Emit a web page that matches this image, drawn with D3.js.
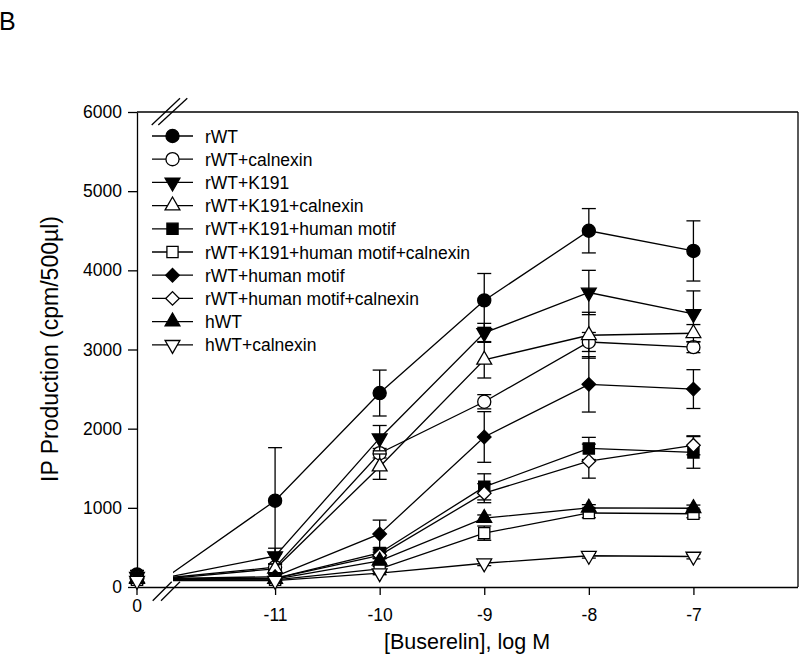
<!DOCTYPE html>
<meta charset="utf-8">
<head>
  <title>IP production vs buserelin</title>
</head>
<style>
  body { margin: 0; background: #fff; }
  text { font-family: "Liberation Sans", Arial, sans-serif; fill: #000; }
</style>
<body>
<svg width="800" height="660"></svg>
<script src="https://cdn.jsdelivr.net/npm/d3@7"></script>
<script>
// doses, first one is the "0" (no agonist) point shown left of the axis break
var doses = [0, -11, -10, -9, -8, -7];
var xTicks = [-11, -10, -9, -8, -7];
var yTicks = [0, 1000, 2000, 3000, 4000, 5000, 6000];

var seriesNames = [
  "rWT", "rWT+calnexin", "rWT+K191", "rWT+K191+calnexin",
  "rWT+K191+human motif", "rWT+K191+human motif+calnexin",
  "rWT+human motif", "rWT+human motif+calnexin", "hWT", "hWT+calnexin"
];
var markers = ["circle", "circle", "tridown", "triup", "square", "square", "diamond", "diamond", "triup", "tridown"];
var filled = [true, false, true, false, true, false, true, false, true, false];

var values = [
  [160, 1090, 2450, 3620, 4500, 4245],
  [120, 250, 1690, 2340, 3095, 3030],
  [130, 390, 1880, 3210, 3720, 3450],
  [110, 230, 1520, 2870, 3180, 3205],
  [100, 110, 430, 1265, 1750, 1700],
  [90, 90, 230, 680, 935, 925],
  [110, 130, 670, 1895, 2560, 2500],
  [100, 110, 400, 1185, 1590, 1790],
  [100, 100, 330, 870, 1000, 995],
  [80, 80, 175, 300, 395, 385]
];
var errors = [
  [50, 670, 290, 340, 280, 380],
  [30, 40, 60, 90, 120, 70],
  [40, 100, 160, 120, 280, 290],
  [30, 60, 160, 230, 290, 110],
  [20, 20, 40, 165, 140, 200],
  [20, 20, 30, 90, 60, 50],
  [20, 30, 175, 320, 350, 245],
  [20, 20, 40, 120, 215, 120],
  [20, 20, 30, 40, 40, 40],
  [20, 20, 20, 30, 30, 30]
];

var svg = d3.select("svg");

var x = d3.scaleLinear().domain([-12, -6]).range([170.5, 798]);
var y = d3.scaleLinear().domain([0, 6000]).range([587, 112]);
var xZero = 137;
// where the "0" dose sits on the x axis (marker) and where its lines run to
function px(d, forLine) {
  if (d === 0) return forLine ? x(-12) : xZero;
  return x(d);
}

// panel letter
svg.append("text").attr("x", -1).attr("y", 30).style("font-size", "25px").text("B");

// frame
svg.append("line").attr("x1", xZero).attr("x2", 798).attr("y1", 112).attr("y2", 112)
  .attr("stroke", "#000").attr("stroke-width", 1.3);
svg.append("line").attr("x1", 798).attr("x2", 798).attr("y1", 112).attr("y2", 587)
  .attr("stroke", "#000").attr("stroke-width", 1.3);

// y axis
var yAxis = svg.append("g").attr("transform", "translate(" + xZero + ",0)")
  .call(d3.axisLeft(y).tickValues(yTicks).tickSize(9).tickSizeOuter(0).tickPadding(6)
    .tickFormat(function(d) { return String(d); }));
yAxis.select(".domain").attr("stroke-width", 1.3);
yAxis.selectAll(".tick line").attr("stroke-width", 1.3);
yAxis.selectAll("text").style("font-size", "17.5px").attr("font-family", null);

// x axis
var xAxis = svg.append("g").attr("transform", "translate(0,587)")
  .call(d3.axisBottom(x).tickValues(xTicks).tickSize(8).tickSizeOuter(0).tickPadding(14)
    .tickFormat(function(d) { return String(d); }));
xAxis.select(".domain").attr("d", "M" + xZero + ",0.5H798").attr("stroke-width", 1.3);
xAxis.selectAll(".tick line").attr("stroke-width", 1.3);
xAxis.selectAll("text").style("font-size", "17.5px").attr("font-family", null);
xAxis.append("line").attr("x1", xZero).attr("x2", xZero).attr("y1", 0).attr("y2", 8)
  .attr("stroke", "#000").attr("stroke-width", 1.3);
xAxis.append("text").attr("x", xZero).attr("y", 25).attr("text-anchor", "middle")
  .style("font-size", "17.5px").text("0");

// axis break marks
var breaks = [
  [151.7, 125, 180, 98.3], [158.3, 125, 187.3, 98.3],
  [152.7, 600.7, 171.7, 581.7], [161, 600.7, 180, 581.7]
];
svg.selectAll(".brk").data(breaks).enter().append("line").attr("class", "brk")
  .attr("x1", function(d) { return d[0]; }).attr("y1", function(d) { return d[1]; })
  .attr("x2", function(d) { return d[2]; }).attr("y2", function(d) { return d[3]; })
  .attr("stroke", "#000").attr("stroke-width", 1.3);

// axis titles
svg.append("text").attr("transform", "translate(58,349) rotate(-90)").attr("text-anchor", "middle")
  .style("font-size", "23px").text("IP Production (cpm/500\u00b5l)");
svg.append("text").attr("x", 467).attr("y", 649).attr("text-anchor", "middle")
  .style("font-size", "21.5px").text("[Buserelin], log M");

// lines break at the axis break
var defs = svg.append("defs");
var clip = defs.append("clipPath").attr("id", "gap");
clip.append("rect").attr("x", 0).attr("y", 0).attr("width", 167).attr("height", 660);
clip.append("rect").attr("x", 173).attr("y", 0).attr("width", 627).attr("height", 660);

function symbolPath(kind) {
  if (kind === "circle") return d3.symbol(d3.symbolCircle, 135)();
  if (kind === "square") return d3.symbol(d3.symbolSquare, 125)();
  if (kind === "diamond") return d3.symbol(d3.symbolSquare, 92)();
  return d3.symbol(d3.symbolTriangle, 95)();
}
function symbolRot(kind) {
  if (kind === "diamond") return 45;
  if (kind === "tridown") return 180;
  return 0;
}

var line = d3.line()
  .x(function(d) { return px(d.dose, true); })
  .y(function(d) { return y(d.v); });

var plot = svg.append("g");
seriesNames.forEach(function(name, s) {
  var pts = doses.map(function(d, i) { return { dose: d, v: values[s][i], e: errors[s][i] }; });
  var g = plot.append("g");
  g.append("path").datum(pts).attr("d", line).attr("clip-path", "url(#gap)")
    .attr("fill", "none").attr("stroke", "#000").attr("stroke-width", 1.3);
  var eb = g.selectAll(".eb").data(pts).enter().append("g").attr("class", "eb");
  eb.append("line")
    .attr("x1", function(d) { return px(d.dose); }).attr("x2", function(d) { return px(d.dose); })
    .attr("y1", function(d) { return y(d.v - d.e); }).attr("y2", function(d) { return y(d.v + d.e); })
    .attr("stroke", "#000").attr("stroke-width", 1.3);
  [-1, 1].forEach(function(sg) {
    eb.append("line")
      .attr("x1", function(d) { return px(d.dose) - 7; }).attr("x2", function(d) { return px(d.dose) + 7; })
      .attr("y1", function(d) { return y(d.v + sg * d.e); }).attr("y2", function(d) { return y(d.v + sg * d.e); })
      .attr("stroke", "#000").attr("stroke-width", 1.3);
  });
  g.selectAll(".mk").data(pts).enter().append("path").attr("class", "mk")
    .attr("d", symbolPath(markers[s]))
    .attr("transform", function(d) {
      return "translate(" + px(d.dose) + "," + y(d.v) + ") rotate(" + symbolRot(markers[s]) + ")";
    })
    .attr("fill", filled[s] ? "#000" : "#fff").attr("stroke", "#000").attr("stroke-width", 1.3);
});

// legend
var leg = svg.append("g").selectAll("g").data(seriesNames).enter().append("g")
  .attr("transform", function(d, i) { return "translate(0," + (136 + i * 23.2) + ")"; });
leg.append("line").attr("x1", 152).attr("x2", 193).attr("stroke", "#000").attr("stroke-width", 1.3);
leg.append("path")
  .attr("d", function(d, i) { return symbolPath(markers[i]); })
  .attr("transform", function(d, i) { return "translate(172.5,0) rotate(" + symbolRot(markers[i]) + ")"; })
  .attr("fill", function(d, i) { return filled[i] ? "#000" : "#fff"; })
  .attr("stroke", "#000").attr("stroke-width", 1.3);
leg.append("text").attr("x", 205).attr("y", 6.5).style("font-size", "17.5px").text(function(d) { return d; });
</script>
</body>
</html>
